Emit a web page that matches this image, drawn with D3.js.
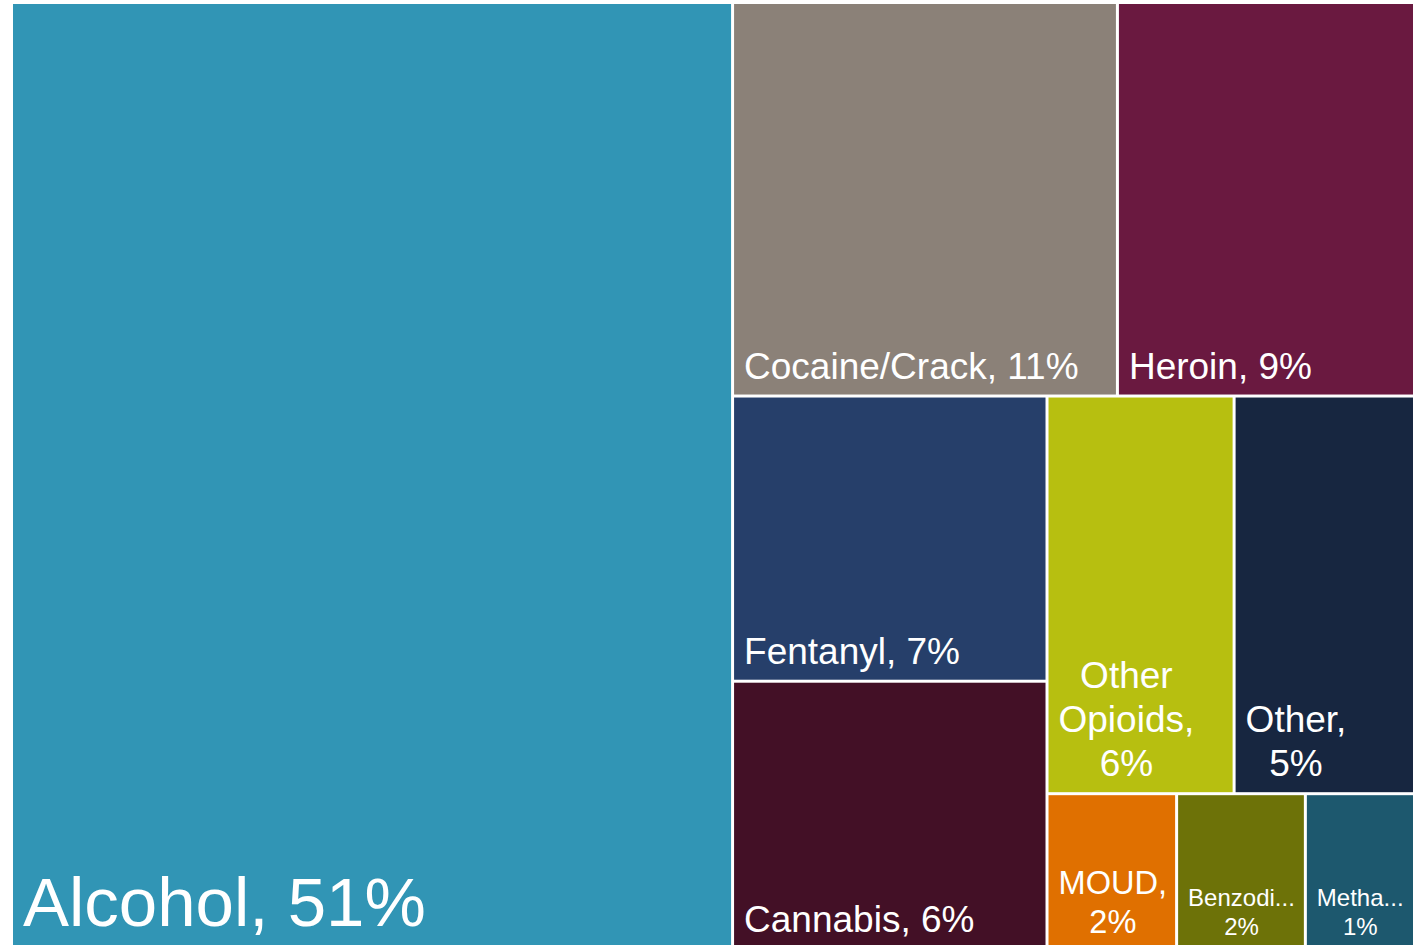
<!DOCTYPE html>
<html>
<head>
<meta charset="utf-8">
<script src="https://cdn.jsdelivr.net/npm/d3@7"></script>
<style>
  body { margin: 0; background: #fff; }
  svg text { font-family: "Liberation Sans", Arial, sans-serif; fill: #fff; }
</style>
</head>
<body>
<svg id="chart" width="1425" height="945"></svg>
<script>
// substance shares (read from tile areas), labels use the rounded percents
var categories = ["Alcohol", "Cocaine/Crack", "Heroin", "Fentanyl", "Cannabis",
                  "Other Opioids", "Other", "MOUD", "Benzodiazepines", "Methamphetamine"];
var shares = [51.4, 11.4, 8.8, 6.75, 6.35, 5.6, 5.4, 1.52, 1.51, 1.28];
var pctLabels = ["51%", "11%", "9%", "7%", "6%", "6%", "5%", "2%", "2%", "1%"];
var colors = ["#3195b5", "#8b8178", "#6a1940", "#263f6a", "#431026",
              "#b7bf10", "#172640", "#e07000", "#6d7208", "#1d586e"];

var margin = { top: 4, left: 13 },
    width = 1400,
    height = 944;

var svg = d3.select("#chart");
var root = svg.append("g")
    .attr("transform", "translate(" + margin.left + "," + margin.top + ")");

var data = categories.map(function (c, i) {
  return { name: c, value: shares[i], pct: pctLabels[i], color: colors[i] };
});

var hier = d3.hierarchy({ children: data }).sum(function (d) { return d.value; });

d3.treemap()
    .tile(d3.treemapSquarify)
    .size([width, height])
    .paddingInner(3)(hier);

var leaves = hier.leaves();

// base font size by tile area
var fontScale = d3.scaleThreshold().domain([300000]).range([37, 69]);
var minFont = 24;

var measure = svg.append("text").attr("x", -1000).attr("y", -1000);
function textWidth(s, fs) {
  measure.style("font-size", fs + "px").text(s);
  return measure.node().getComputedTextLength();
}

var cell = root.selectAll("g.cell")
    .data(leaves)
    .enter().append("g")
    .attr("class", "cell")
    .attr("transform", function (d) { return "translate(" + d.x0 + "," + d.y0 + ")"; });

cell.append("rect")
    .attr("width", function (d) { return d.x1 - d.x0; })
    .attr("height", function (d) { return d.y1 - d.y0; })
    .attr("fill", function (d) { return d.data.color; });

cell.each(function (d) {
  var w = d.x1 - d.x0, h = d.y1 - d.y0;
  var avail = w - 18;
  var fs = fontScale(w * h);
  var words = (d.data.name + ", " + d.data.pct).split(" ");

  var longest = d3.max(words, function (s) { return textWidth(s, fs); });
  if (longest > avail) fs = Math.max(minFont, fs * avail / longest);

  // truncate words that still don't fit
  words = words.map(function (s) {
    if (textWidth(s, fs) <= avail) return s;
    var t = s;
    while (t.length > 1 && textWidth(t + "...", fs) > avail) t = t.slice(0, -1);
    return t + "...";
  });

  // greedy wrap
  var lines = [], cur = "";
  words.forEach(function (s) {
    var test = cur ? cur + " " + s : s;
    if (cur && textWidth(test, fs) > avail) { lines.push(cur); cur = s; }
    else cur = test;
  });
  if (cur) lines.push(cur);

  var maxW = d3.max(lines, function (s) { return textWidth(s, fs); });
  var cx = 10 + maxW / 2;
  var lineH = fs * 1.2;
  var lastBase = h - 8 - fs * 0.21;

  var txt = d3.select(this).append("text")
      .attr("text-anchor", lines.length > 1 ? "middle" : "start")
      .style("font-size", fs + "px");

  lines.forEach(function (s, i) {
    txt.append("tspan")
        .attr("x", lines.length > 1 ? cx : 10)
        .attr("y", lastBase - (lines.length - 1 - i) * lineH)
        .text(s);
  });
});

measure.remove();
</script>
</body>
</html>
